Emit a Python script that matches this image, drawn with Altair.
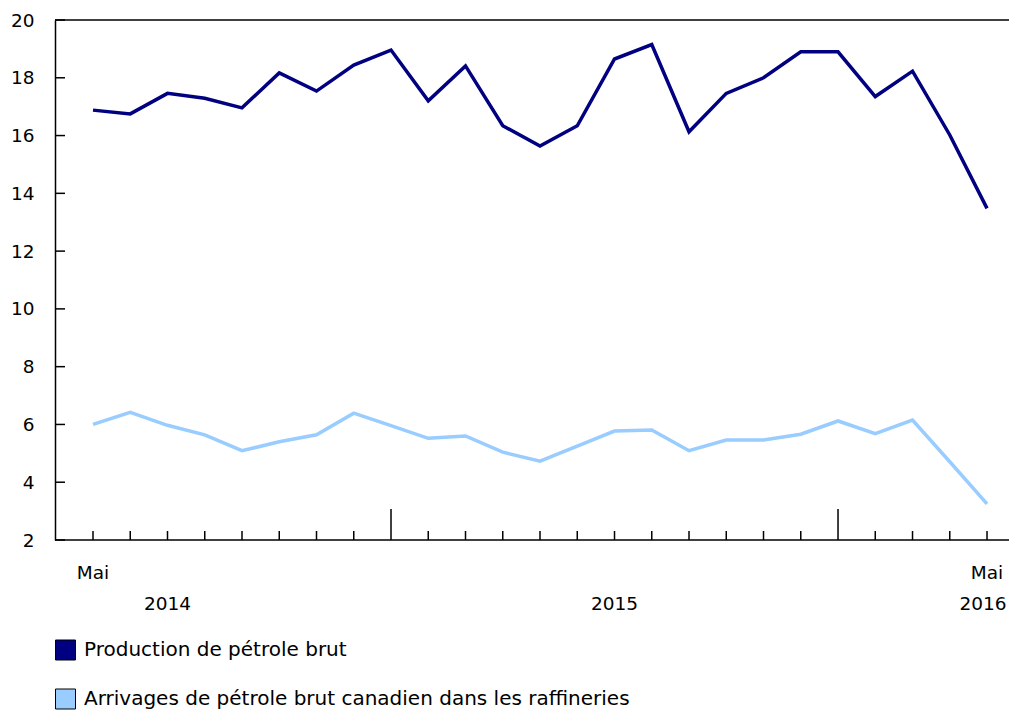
import altair as alt
import pandas as pd

# ---- data ----
months = ["2014-05", "2014-06", "2014-07", "2014-08", "2014-09", "2014-10", "2014-11", "2014-12",
          "2015-01", "2015-02", "2015-03", "2015-04", "2015-05", "2015-06", "2015-07", "2015-08",
          "2015-09", "2015-10", "2015-11", "2015-12", "2016-01", "2016-02", "2016-03", "2016-04",
          "2016-05"]
production = [16.88, 16.75, 17.46, 17.29, 16.96, 18.17, 17.54, 18.44, 18.96, 17.20, 18.41, 16.34,
              15.64, 16.34, 18.65, 19.15, 16.13, 17.46, 18.00, 18.90, 18.90, 17.35, 18.23, 16.02,
              13.48]
arrivals = [6.00, 6.42, 5.97, 5.64, 5.09, 5.40, 5.64, 6.39, 5.96, 5.52, 5.60, 5.04,
            4.73, 5.25, 5.77, 5.81, 5.09, 5.46, 5.46, 5.66, 6.12, 5.68, 6.15, 4.71,
            3.25]
series_names = ["Production de pétrole brut",
                "Arrivages de pétrole brut canadien dans les raffineries"]
series_colors = ["#000080", "#99CCFF"]
y_tick_values = [2, 4, 6, 8, 10, 12, 14, 16, 18, 20]
month_labels = [("Mai", 0), ("Mai", 24)]
year_labels = [("2014", 2), ("2015", 14), ("2016", 24)]
year_start_idx = [8, 20]
x_domain = [-1.02, 24.59]
y_domain = [2, 20]

W, H = 954, 520
FONT = "DejaVu Sans"

rows = []
for i, m in enumerate(months):
    rows.append({"i": i, "month": m, "series": series_names[0], "value": production[i]})
    rows.append({"i": i, "month": m, "series": series_names[1], "value": arrivals[i]})
df = pd.DataFrame(rows)

xscale = alt.Scale(domain=x_domain, nice=False, zero=False)
yscale = alt.Scale(domain=y_domain, nice=False, zero=False)
cscale = alt.Scale(domain=series_names, range=series_colors)

lines = alt.Chart(df).mark_line(strokeWidth=3.5).encode(
    x=alt.X("i:Q", scale=xscale, axis=None),
    y=alt.Y("value:Q", scale=yscale,
            axis=alt.Axis(values=y_tick_values, title=None, ticks=False,
                          labelPadding=21, grid=False, domainColor="black", domainWidth=1.5,
                          labelFontSize=18.5, labelFont=FONT, labelColor="black")),
    color=alt.Color("series:N", scale=cscale, legend=None),
)

frame_df = pd.DataFrame({"x1": [x_domain[0], x_domain[0]], "x2": [x_domain[1], x_domain[1]],
                         "y": [y_domain[0], y_domain[1]]})
frame = alt.Chart(frame_df).mark_rule(color="black", strokeWidth=1.5).encode(
    x=alt.X("x1:Q", scale=xscale, axis=None), x2="x2:Q", y=alt.Y("y:Q", scale=yscale))

ytick_df = pd.DataFrame({"v": y_tick_values})
yticks = alt.Chart(ytick_df).mark_rule(color="black", strokeWidth=1.5).encode(
    y=alt.Y("v:Q", scale=yscale), x=alt.value(0), x2=alt.value(10))

minor_idx = [i for i in range(len(months)) if i not in year_start_idx]
xticks = alt.Chart(pd.DataFrame({"i": minor_idx})).mark_rule(color="black", strokeWidth=1.5).encode(
    x=alt.X("i:Q", scale=xscale, axis=None), y=alt.value(H), y2=alt.value(H - 9))
xticks_major = alt.Chart(pd.DataFrame({"i": year_start_idx})).mark_rule(color="black", strokeWidth=1.5).encode(
    x=alt.X("i:Q", scale=xscale, axis=None), y=alt.value(H), y2=alt.value(H - 31))

mai_text = alt.Chart(pd.DataFrame(month_labels, columns=["t", "i"])).mark_text(
    fontSize=18.5, font=FONT, color="black", baseline="middle", align="center").encode(
    x=alt.X("i:Q", scale=xscale, axis=None), y=alt.value(H + 33), text="t:N")
year_df = pd.DataFrame(year_labels, columns=["t", "i"])
year_text = alt.Chart(year_df).transform_filter("datum.i < 24").mark_text(
    fontSize=18.5, font=FONT, color="black", baseline="middle", align="center").encode(
    x=alt.X("i:Q", scale=xscale, axis=None), y=alt.value(H + 64), text="t:N")
year_text_last = alt.Chart(year_df).transform_filter("datum.i >= 24").mark_text(
    fontSize=18.5, font=FONT, color="black", baseline="middle", align="center", dx=-4).encode(
    x=alt.X("i:Q", scale=xscale, axis=None), y=alt.value(H + 64), text="t:N")

# ---- legend (drawn below the plot) ----
legend_df = pd.DataFrame({"series": series_names})
legend_layers = []
legend_row_y = [H + 110, H + 159]
for k, name in enumerate(series_names):
    sub = alt.Chart(legend_df).transform_filter(alt.datum.series == name)
    legend_layers.append(
        sub.mark_square(size=400, stroke="black", strokeWidth=1, opacity=1).encode(
            x=alt.value(10.5), y=alt.value(legend_row_y[k]),
            fill=alt.Fill("series:N", scale=cscale, legend=None)))
    legend_layers.append(
        sub.mark_text(fontSize=20, font=FONT, color="black", align="left",
                      baseline="middle").encode(
            x=alt.value(29), y=alt.value(legend_row_y[k]), text="series:N"))

chart = alt.layer(
    lines, frame, yticks, xticks, xticks_major, mai_text, year_text, year_text_last, *legend_layers
).properties(
    width=W, height=H,
    autosize=alt.AutoSizeParams(type="none"),
    padding={"left": 47, "top": 12, "right": 0, "bottom": 171},
).configure_view(stroke=None)

chart.save("out.html", embed_options={"renderer": "svg", "actions": False})
